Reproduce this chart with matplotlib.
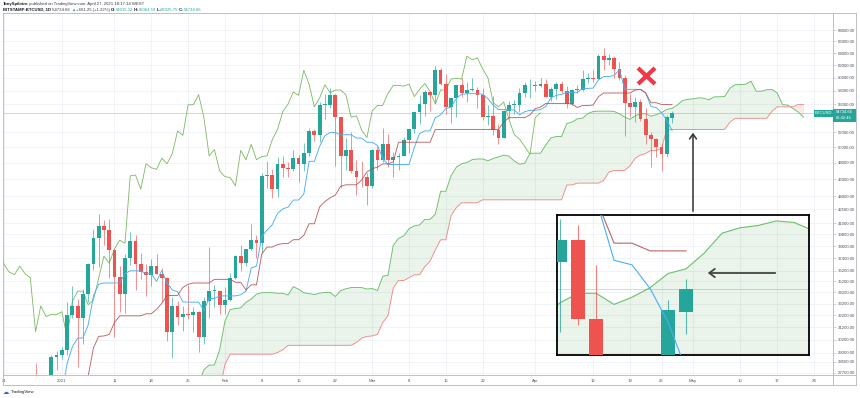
import numpy as np
import pandas as pd
import matplotlib
matplotlib.use("Agg")
import matplotlib.pyplot as plt
from matplotlib.patches import Rectangle
from matplotlib.lines import Line2D

plt.rcParams['font.family'] = ['Liberation Sans', 'DejaVu Sans']

# ---------------- data (BITSTAMP:BTCUSD daily, 2020-11-01 .. 2021-04-27) ----------------
first_day = "2020-11-01"
axis_origin = "2020-12-21"

opens = [
    13780, 13760, 13550, 14030, 14150, 15590, 15590, 14830, 15480, 15330, 15300, 15700, 16290, 16330, 16070,
    15960, 16730, 17680, 17790, 17820, 18680, 18720, 18420, 18390, 19170, 18730, 17150, 17140, 17730, 18180,
    19700, 18780, 19220, 19440, 18660, 19150, 19360, 19170, 18320, 18550, 18250, 18040, 18800, 19170, 19270,
    19440, 21350, 22800, 23130, 23850, 23480, 22740, 23820, 23240, 23730, 24700, 26450, 26250, 27040, 27370, 28880,
    28990, 29390, 32190, 33000, 31990, 34020, 36820, 39400, 40640, 40240, 38240, 35550, 34000, 37390, 39150,
    36800, 36050, 35820, 36630, 35900, 35500, 30850, 33000, 32090, 32280, 32260, 32500, 30400, 33400, 34300, 34300,
    33100, 33500, 35500, 37600, 36900, 38300, 39200, 38900, 46400, 46500, 44800, 47900, 47400, 47200,
    48600, 47900, 49200, 52200, 51600, 55900, 55900, 57400, 54100, 48900, 49700, 47000, 46300, 46200,
    45200, 49600, 48400, 50400, 48400, 48800, 48900, 51000, 52400, 54900, 56000, 57800, 57300, 61200, 59000,
    55600, 56900, 58900, 57700, 58100, 58100, 57400, 54100, 54300, 52300, 51300, 55000, 55800, 55800, 57600, 58800,
    58800, 58700, 59000, 57100, 58200, 59100, 57900, 56000, 58100, 58100, 59800, 59900, 59800, 63500,
    62900, 63200, 61400, 60000, 56200, 55600, 56300, 53800, 51700, 51100, 50100, 49100, 54015.32]
highs = [
    13900, 13820, 14070, 14250, 15740, 15960, 15770, 15650, 15850, 15480, 15970, 16340, 16480, 16330, 16140,
    16880, 17860, 18480, 18140, 18800, 18960, 18750, 18770, 19420, 19480, 18900, 17470, 17880, 18350, 19860,
    19890, 19340, 19570, 19520, 19180, 19420, 19400, 19280, 18640, 18560, 18280, 18950, 19420, 19340, 19550,
    21550, 23770, 23290, 24170, 24290, 24100, 23840, 24100, 23780, 24790, 26870, 28400, 27500, 27380, 28990, 29300,
    29600, 33300, 34800, 33600, 34500, 36900, 40400, 41950, 41370, 41400, 38300, 36600, 37800, 40000, 39700,
    37900, 36800, 37300, 37850, 36400, 35600, 33800, 33400, 32950, 34850, 32900, 32560, 33800, 38500, 34900, 34300,
    34700, 35950, 37700, 38700, 38300, 40950, 39700, 46800, 48200, 47300, 48700, 48900, 48100, 49700,
    49000, 50600, 52600, 52500, 56300, 57500, 58350, 57500, 54200, 51300, 52000, 48400, 48300, 46700,
    49800, 50200, 52600, 51800, 49400, 49200, 51400, 52400, 54900, 57400, 58100, 58000, 61800, 61600, 60600,
    56900, 58900, 60000, 59400, 59900, 58500, 58400, 55800, 57200, 53200, 55100, 56500, 56600, 58400, 59400, 59800,
    59500, 60000, 59800, 58500, 59300, 59500, 58700, 58200, 58900, 61200, 60700, 61300, 63800, 64900,
    63800, 63500, 62500, 60400, 57500, 57000, 56800, 55500, 52100, 51200, 50600, 54400, 55064.59]
lows = [
    13620, 13210, 13290, 13540, 14100, 15200, 14350, 14720, 14820, 15080, 15280, 15450, 15970, 15710, 15820,
    15870, 16560, 17230, 17350, 17760, 18330, 17630, 18010, 18050, 18570, 16200, 16440, 16880, 17560, 18180,
    18000, 18350, 18930, 18580, 18520, 18870, 18900, 18250, 17650, 17910, 17570, 18020, 18710, 18980, 19050,
    19300, 21230, 22350, 22780, 23070, 22350, 22350, 22700, 22700, 23450, 24500, 25850, 26100, 25880, 27330, 27900,
    28700, 29000, 32000, 28130, 29900, 33350, 36300, 36500, 38700, 35500, 30400, 32500, 32400, 36700, 34400,
    35400, 33900, 34800, 35900, 33400, 30100, 28800, 31400, 30900, 31900, 30850, 29250, 29900, 31950, 32900, 32300,
    32300, 33450, 35400, 36200, 36600, 38200, 37400, 37900, 45000, 43800, 43900, 46300, 46200, 47000,
    45600, 47000, 48900, 50900, 50700, 53800, 55500, 47600, 45000, 47100, 46800, 44100, 45100, 43000,
    45000, 47100, 48100, 47500, 46300, 47100, 48900, 49300, 51900, 53100, 54300, 55000, 56100, 58900, 54600,
    53300, 54100, 57100, 56300, 57900, 55500, 53700, 53000, 51700, 50400, 51300, 53900, 54600, 54900, 57000, 56900,
    57900, 58500, 57100, 56500, 56800, 57700, 55500, 55800, 57700, 57900, 59200, 59300, 59800, 61300,
    62000, 60000, 59700, 51500, 54200, 53400, 53600, 50400, 47500, 48800, 47000, 48800, 53325.75]
closes = [
    13760, 13550, 14030, 14150, 15590, 15590, 14830, 15480, 15330, 15300, 15700, 16290, 16330, 16070, 15960,
    16730, 17680, 17790, 17820, 18680, 18720, 18420, 18390, 19170, 18730, 17150, 17140, 17730, 18180, 19700,
    18780, 19220, 19440, 18660, 19150, 19360, 19170, 18320, 18550, 18250, 18040, 18800, 19170, 19270, 19440,
    21350, 22800, 23130, 23850, 23480, 22740, 23820, 23240, 23730, 24700, 26450, 26250, 27040, 27370, 28880, 28990,
    29390, 32190, 33000, 31990, 34020, 36820, 39400, 40640, 40240, 38240, 35550, 34000, 37390, 39150, 36800,
    36050, 35820, 36630, 35900, 35500, 30850, 33000, 32090, 32280, 32260, 32500, 30400, 33400, 34300, 34300, 33100,
    33500, 35500, 37600, 36900, 38300, 39200, 38900, 46400, 46500, 44800, 47900, 47400, 47200, 48600,
    47900, 49200, 52200, 51600, 55900, 55900, 57400, 54100, 48900, 49700, 47000, 46300, 46200, 45200,
    49600, 48400, 50400, 48400, 48800, 48900, 51000, 52400, 54900, 56000, 57800, 57300, 61200, 59000, 55600,
    56900, 58900, 57700, 58100, 58100, 57400, 54100, 54300, 52300, 51300, 55000, 55800, 55800, 57600, 58800, 58800,
    58700, 59000, 57100, 58200, 59100, 57900, 56000, 58100, 58100, 59800, 59900, 59800, 63500, 62900,
    63200, 61400, 60000, 56200, 55600, 56300, 53800, 51700, 51100, 50100, 49100, 54073.41, 54734.66]

# Ichimoku settings (TradingView: 9 / 26 / 52, displacement 26)
tenkan_len, kijun_len, spanb_len, displacement = 9, 26, 52, 26

price_ticks = [68000, 66000, 64000, 62000, 60000, 58000, 56000, 52000, 50000, 48000, 46000, 44000,
               42500, 41000, 39800, 38600, 37400, 36200, 35200, 34200, 33200, 32200, 31200, 30200,
               29200, 28500, 27700]
date_ticks = ["2020-12-21", "2021-01-01", "2021-01-11", "2021-01-18", "2021-01-25", "2021-02-01",
              "2021-02-08", "2021-02-15", "2021-02-22", "2021-03-01", "2021-03-08", "2021-03-15",
              "2021-03-22", "2021-04-01", "2021-04-12", "2021-04-19", "2021-04-25", "2021-05-01",
              "2021-05-10", "2021-05-17", "2021-05-24"]
date_labels = ["21", "2021", "11", "18", "25", "Feb", "8", "15", "22", "Mar", "8", "15", "22",
               "Apr", "12", "19", "25", "May", "10", "17", "24"]

last_price = 54734.66
header_1 = [("TonySpilotro", "bold", "#131722"),
            (" published on TradingView.com, April 27, 2021 18:17:14 WEST", "normal", "#363a45")]
header_2 = [("BITSTAMP:BTCUSD, 1D", "bold", "#131722"), (" 54734.66 ", "normal", "#363a45"),
            ("\u25B2", "normal", "#26a69a"), (" +661.25 (+1.22%) ", "normal", "#363a45"),
            ("O:", "bold", "#131722"), ("54015.32", "normal", "#26a69a"),
            (" H:", "bold", "#131722"), ("55064.59", "normal", "#26a69a"),
            (" L:", "bold", "#131722"), ("53325.75", "normal", "#26a69a"),
            (" C:", "bold", "#131722"), ("54734.66", "normal", "#26a69a")]

# ---------------- derived ----------------
TEAL, RED = "#26a69a", "#ef5350"
o = np.array(opens, float); h = np.array(highs, float)
l = np.array(lows, float); c = np.array(closes, float)
dates = pd.date_range(first_day, periods=len(c), freq="D")
origin = pd.Timestamp(axis_origin)
d = np.array([(t - origin).days for t in dates], float)

hs, ls = pd.Series(h), pd.Series(l)
tenkan = ((hs.rolling(tenkan_len).max() + ls.rolling(tenkan_len).min()) / 2).values
kijun = ((hs.rolling(kijun_len).max() + ls.rolling(kijun_len).min()) / 2).values
span_a = (tenkan + kijun) / 2
span_b = ((hs.rolling(spanb_len).max() + ls.rolling(spanb_len).min()) / 2).values
off = displacement - 1

W, H = 860, 398
fig = plt.figure(figsize=(W / 100, H / 100), dpi=100, facecolor="white")
def fx(x): return x / W
def fy(y): return 1 - y / H

GRID = "#eef1f6"
FRAME = "#b2b5be"
TXT = "#4c525e"


def draw_chart(a, wick_lw, body_w, lw):
    up = c >= o
    cols = np.where(up, TEAL, RED)
    a.vlines(d, l, h, colors=cols, lw=wick_lw, alpha=0.75, zorder=3)
    bot = np.minimum(o, c)
    hgt = np.maximum(np.abs(c - o), bot * 0.0025)
    a.bar(d, hgt, bottom=bot, width=body_w, color=cols, lw=0, zorder=4)
    a.fill_between(d + off, span_a, span_b, where=span_a >= span_b, interpolate=True,
                   color="#43a047", alpha=0.11, lw=0, zorder=1)
    a.fill_between(d + off, span_a, span_b, where=span_a < span_b, interpolate=True,
                   color="#f44336", alpha=0.11, lw=0, zorder=1)
    a.plot(d + off, span_a, color="#6cbf6c", lw=lw, zorder=2)
    a.plot(d + off, span_b, color="#ee8a8a", lw=lw, zorder=2)
    a.plot(d, tenkan, color="#4aaef5", lw=lw, zorder=5)
    a.plot(d, kijun, color="#b04a4a", lw=lw, alpha=0.85, zorder=5)


# ---------------- main chart ----------------
ax = fig.add_axes([fx(3), fy(375), (833 - 3) / W, (375 - 13) / H])
ax.set_facecolor("white")
ax.set_yscale("log")
draw_chart(ax, 0.6, 0.72, 0.65)
ax.plot(d - off, c, color="#7cb861", lw=0.6, zorder=2)   # lagging span
ax.axhline(last_price, color=TEAL, lw=0.5, alpha=0.45, zorder=1)

ax.set_xlim(-0.19, 157.6)
ax.set_ylim(27533, 71098)
ax.yaxis.set_minor_locator(matplotlib.ticker.NullLocator())
ax.set_yticks(price_ticks)
ax.set_yticklabels([f"{v:.2f}" for v in price_ticks])
ax.yaxis.tick_right()
ax.tick_params(axis="y", length=2, width=0.4, color=FRAME, pad=1.2, labelsize=3.1, labelcolor=TXT)
tick_d = [(pd.Timestamp(t) - origin).days for t in date_ticks]
ax.set_xticks(tick_d)
ax.set_xticklabels(date_labels)
ax.tick_params(axis="x", length=0, pad=2.6, labelsize=3.1, labelcolor=TXT)
ax.grid(True, color=GRID, lw=0.6, zorder=0)
ax.set_axisbelow(True)
for s in ax.spines.values():
    s.set_visible(False)

# frame lines
for xs, ys in [([3, 856], [13, 13]), ([3, 856], [385, 385]), ([3, 3], [13, 385]),
               ([856, 856], [13, 385]), ([833, 833], [13, 385]), ([3, 856], [375, 375])]:
    fig.add_artist(Line2D([fx(v) for v in xs], [fy(v) for v in ys], color=FRAME, lw=0.6,
                          transform=fig.transFigure))

# price labels on the right
fig.add_artist(Rectangle((fx(814), fy(116.5)), 18.5 / W, 6.5 / H, transform=fig.transFigure,
                         color=TEAL, lw=0, zorder=10))
fig.text(fx(823.2), fy(113.3), "BTCUSD", color="white", fontsize=3, ha="center", va="center", zorder=11)
fig.add_artist(Rectangle((fx(833), fy(121.5)), 22.5 / W, 12.5 / H, transform=fig.transFigure,
                         color=TEAL, lw=0, zorder=10))
fig.text(fx(844.2), fy(112.4), f"{last_price:.2f}", color="white", fontsize=3, ha="center",
         va="center", zorder=11)
fig.text(fx(844.2), fy(118.2), "05:42:46", color="white", fontsize=3, ha="center", va="center", zorder=11)

# ---------------- inset zoom ----------------
ix0, iy0, ix1, iy1 = 557, 215, 809, 355
axi = fig.add_axes([fx(ix0), fy(iy1), (ix1 - ix0) / W, (iy1 - iy0) / H])
axi.set_facecolor("none")
axi.set_yscale("log")
draw_chart(axi, 0.8, 0.78, 0.8)
axi.axhline(last_price, color=TEAL, lw=0.6, alpha=0.35, zorder=1)
axi.set_xlim(119.83, 133.83)
axi.set_ylim(52690, 57120)
axi.set_xticks([]); axi.set_yticks([])
axi.yaxis.set_minor_locator(matplotlib.ticker.NullLocator())
for s in axi.spines.values():
    s.set_color("black"); s.set_linewidth(1.3)
axi.tick_params(which="both", length=0, labelleft=False, labelbottom=False)

# arrows
fig.add_artist(matplotlib.patches.FancyArrowPatch(
    (fx(693), fy(214)), (fx(693), fy(130)), transform=fig.transFigure,
    arrowstyle="->,head_length=3.5,head_width=2.5", lw=1.1, color="#333333", zorder=12))
fig.add_artist(matplotlib.patches.FancyArrowPatch(
    (fx(778), fy(273)), (fx(705), fy(273)), transform=fig.transFigure,
    arrowstyle="->,head_length=4,head_width=3", lw=1.3, color="#444444", zorder=12))

# red X mark
for ys in ([68, 84], [84, 68]):
    fig.add_artist(Line2D([fx(638), fx(655)], [fy(ys[0]), fy(ys[1])], color="#f23645", lw=3.0,
                          solid_capstyle="butt", transform=fig.transFigure, zorder=12))

# ---------------- header ----------------
renderer = fig.canvas.get_renderer()
def seq_text(x, y, parts, size=3.1):
    for s, weight, col in parts:
        t = fig.text(fx(x), fy(y), s, fontsize=size, fontweight=weight, color=col,
                     ha="left", va="center")
        x += t.get_window_extent(renderer=renderer).width

seq_text(3, 4.2, header_1)
seq_text(3, 9.6, header_2)

# TradingView logo
fig.text(fx(3), fy(392), "\u2601", fontsize=4.5, color="#2962ff", family="DejaVu Sans",
         ha="left", va="center")
fig.text(fx(11), fy(392), "TradingView", fontsize=3.2, color="#131722", ha="left", va="center")

fig.savefig("out.png", dpi=100, facecolor="white")
